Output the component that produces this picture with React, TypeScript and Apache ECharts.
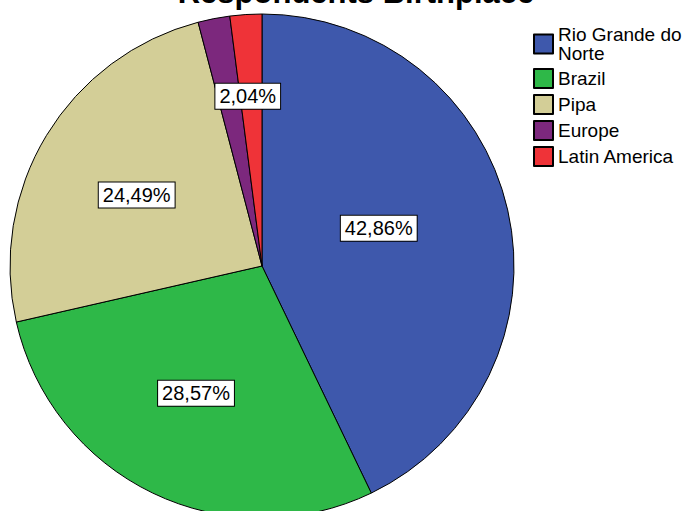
import React, { useEffect, useRef } from "react";
import * as echarts from "echarts";

const categories = ["Rio Grande do\nNorte", "Brazil", "Pipa", "Europe", "Latin America"];
const values = [42.86, 28.57, 24.49, 2.04, 2.04];
const colors = ["#3E58AC", "#2EB848", "#D3CE97", "#7C287D", "#EF3338"];
const showLabel = [true, true, true, false, true];
const labelOffsets: [number, number][] = [[-9, -9], [-10, 11], [-15, -4], [0, 0], [-6, -41]];

export default function App() {
  const ref = useRef<HTMLDivElement>(null);
  useEffect(() => {
    if (!ref.current) return;
    const chart = echarts.init(ref.current, null, { renderer: "svg" });
    const font = "'Liberation Sans', Arial, sans-serif";
    chart.setOption({
      animation: false,
      backgroundColor: "#ffffff",
      title: {
        text: "Respondents Birthplace",
        left: 351,
        top: -29,
        textAlign: "center",
        textStyle: { fontFamily: font, fontSize: 31, fontWeight: "bold", color: "#000", lineHeight: 32 },
      },
      legend: {
        orient: "vertical",
        left: 528,
        top: 20,
        itemWidth: 19,
        itemHeight: 19,
        itemGap: 5,
        icon: "rect",
        selectedMode: false,
        textStyle: { fontFamily: font, fontSize: 19, color: "#000", lineHeight: 19 },
        data: categories,
      },
      series: [
        {
          type: "pie",
          center: [262, 266],
          radius: 252,
          startAngle: 90,
          clockwise: true,
          avoidLabelOverlap: false,
          itemStyle: { borderColor: "#000", borderWidth: 1 },
          emphasis: { disabled: true },
          label: {
            position: "inside",
            fontFamily: font,
            fontSize: 20,
            color: "#000",
            backgroundColor: "#fff",
            borderColor: "#000",
            borderWidth: 1,
            padding: [3, 4, 2, 4],
            formatter: (p: any) => p.value.toFixed(2).replace(".", ",") + "%",
          },
          labelLine: { show: false },
          data: categories.map((name, i) => ({
            name,
            value: values[i],
            itemStyle: { color: colors[i] },
            label: { show: showLabel[i], offset: labelOffsets[i] },
          })),
        },
      ],
    });
    return () => chart.dispose();
  }, []);
  return <div ref={ref} style={{ position: "fixed", left: 0, top: 0, width: 693, height: 511 }} />;
}
